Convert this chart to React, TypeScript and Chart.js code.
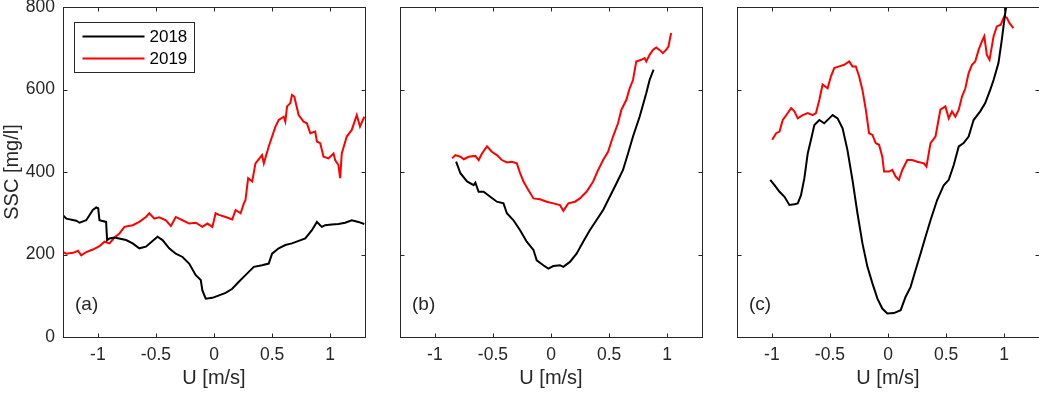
import React, { useEffect, useRef } from "react";
import { Chart, registerables } from "chart.js";

Chart.register(...registerables);

const FONT = "'Liberation Sans', Arial, Helvetica, sans-serif";
const INK = "#262626";

const seriesLabels = ["2018", "2019"];
const seriesColors = ["#000000", "#ff0000"];
const panelLabels = ["(a)", "(b)", "(c)"];
const xTicks = [-1, -0.5, 0, 0.5, 1];
const yTicks = [0, 200, 400, 600, 800];
const xTitle = "U [m/s]";
const yTitle = "SSC [mg/l]";

// Panel (a)
const a2018U = [-1.3, -1.271, -1.186, -1.157, -1.1, -1.043, -1.014, -0.997, -0.986, -0.929, -0.92, -0.9, -0.857, -0.757, -0.7, -0.643, -0.586, -0.529, -0.486, -0.443, -0.386, -0.329, -0.271, -0.214, -0.157, -0.114, -0.1, -0.071, -0.014, 0.043, 0.1, 0.157, 0.214, 0.271, 0.343, 0.414, 0.471, 0.5, 0.557, 0.614, 0.671, 0.729, 0.786, 0.843, 0.886, 0.914, 0.929, 0.957, 1.014, 1.071, 1.129, 1.186, 1.243, 1.294];
const a2018SSC = [295, 287, 282, 277, 283, 308, 314, 312, 283, 279, 235, 239, 241, 235, 227, 215, 219, 233, 243, 235, 215, 202, 194, 178, 150, 138, 113, 93, 95, 101, 107, 117, 134, 150, 170, 174, 178, 202, 215, 223, 227, 233, 239, 259, 279, 271, 267, 271, 273, 274, 277, 283, 279, 274];
const a2019U = [-1.3, -1.271, -1.214, -1.171, -1.143, -1.1, -1.043, -0.986, -0.943, -0.9, -0.857, -0.814, -0.771, -0.7, -0.643, -0.586, -0.557, -0.514, -0.471, -0.414, -0.371, -0.329, -0.271, -0.214, -0.157, -0.1, -0.057, -0.014, 0.014, 0.043, 0.1, 0.157, 0.186, 0.229, 0.257, 0.271, 0.294, 0.329, 0.357, 0.414, 0.429, 0.471, 0.529, 0.557, 0.6, 0.614, 0.629, 0.657, 0.671, 0.691, 0.729, 0.771, 0.8, 0.829, 0.871, 0.886, 0.914, 0.943, 0.986, 1.029, 1.043, 1.071, 1.086, 1.1, 1.143, 1.186, 1.229, 1.257, 1.294];
const a2019SSC = [206, 202, 204, 209, 198, 206, 212, 220, 231, 227, 241, 251, 267, 271, 279, 291, 300, 287, 290, 283, 269, 291, 283, 275, 277, 267, 275, 267, 300, 296, 291, 285, 308, 300, 324, 332, 385, 377, 421, 441, 421, 462, 510, 526, 534, 522, 559, 567, 587, 583, 538, 522, 518, 494, 498, 474, 470, 437, 433, 445, 429, 417, 385, 445, 486, 502, 538, 510, 534];

// Panel (b)
const b2018U = [-0.817, -0.78, -0.723, -0.666, -0.651, -0.623, -0.58, -0.523, -0.466, -0.409, -0.38, -0.323, -0.266, -0.209, -0.151, -0.123, -0.066, -0.023, 0.02, 0.077, 0.106, 0.163, 0.22, 0.277, 0.334, 0.391, 0.449, 0.506, 0.563, 0.62, 0.663, 0.706, 0.763, 0.82, 0.849, 0.883];
const b2018SSC = [425, 397, 377, 368, 374, 352, 352, 340, 328, 324, 300, 283, 259, 231, 211, 186, 174, 166, 172, 174, 170, 182, 202, 231, 259, 283, 308, 340, 372, 405, 445, 486, 534, 591, 623, 648];
const b2019U = [-0.851, -0.823, -0.78, -0.751, -0.709, -0.651, -0.623, -0.594, -0.551, -0.509, -0.466, -0.423, -0.38, -0.337, -0.294, -0.266, -0.237, -0.194, -0.151, -0.094, -0.037, 0.02, 0.077, 0.106, 0.149, 0.206, 0.249, 0.306, 0.363, 0.406, 0.449, 0.491, 0.534, 0.577, 0.606, 0.649, 0.677, 0.706, 0.734, 0.777, 0.806, 0.82, 0.849, 0.877, 0.906, 0.934, 0.963, 0.991, 1.011, 1.034];
const b2019SSC = [433, 441, 437, 431, 437, 439, 429, 445, 462, 449, 441, 429, 423, 425, 421, 397, 377, 356, 336, 334, 328, 324, 320, 306, 324, 328, 336, 352, 377, 405, 429, 449, 486, 518, 551, 575, 603, 623, 668, 672, 676, 668, 684, 696, 702, 696, 688, 696, 704, 737];

// Panel (c)
const c2018U = [-1.014, -0.977, -0.934, -0.891, -0.849, -0.806, -0.777, -0.749, -0.72, -0.691, -0.663, -0.634, -0.591, -0.549, -0.506, -0.477, -0.434, -0.391, -0.349, -0.306, -0.263, -0.22, -0.177, -0.134, -0.091, -0.049, -0.006, 0.051, 0.109, 0.151, 0.194, 0.237, 0.28, 0.323, 0.366, 0.423, 0.48, 0.523, 0.566, 0.609, 0.651, 0.694, 0.737, 0.794, 0.837, 0.88, 0.909, 0.951, 0.98, 1.009, 1.023];
const c2018SSC = [381, 368, 352, 340, 320, 322, 324, 344, 385, 445, 478, 514, 526, 518, 530, 538, 530, 506, 453, 381, 300, 227, 170, 130, 93, 69, 57, 58, 65, 97, 121, 162, 202, 243, 283, 332, 368, 381, 417, 462, 470, 486, 526, 547, 567, 599, 623, 664, 721, 785, 810];
const c2019U = [-0.997, -0.963, -0.934, -0.906, -0.863, -0.834, -0.806, -0.777, -0.734, -0.691, -0.649, -0.62, -0.591, -0.563, -0.52, -0.491, -0.463, -0.42, -0.377, -0.334, -0.306, -0.277, -0.249, -0.22, -0.191, -0.163, -0.134, -0.106, -0.077, -0.049, -0.034, 0.009, 0.037, 0.066, 0.094, 0.123, 0.166, 0.209, 0.251, 0.309, 0.331, 0.366, 0.409, 0.451, 0.494, 0.523, 0.551, 0.58, 0.609, 0.637, 0.666, 0.694, 0.723, 0.751, 0.78, 0.809, 0.829, 0.851, 0.874, 0.909, 0.937, 0.971, 1.0, 1.023, 1.046, 1.08];
const c2019SSC = [478, 494, 498, 526, 543, 555, 547, 530, 538, 543, 538, 543, 575, 612, 603, 632, 652, 656, 660, 668, 656, 656, 632, 599, 551, 494, 490, 470, 466, 437, 401, 401, 405, 389, 381, 405, 429, 429, 425, 421, 413, 470, 486, 551, 559, 530, 547, 534, 551, 583, 603, 640, 660, 668, 696, 717, 729, 684, 672, 729, 753, 757, 777, 774, 761, 749];

const panelSeries = [
  [[a2018U, a2018SSC], [a2019U, a2019SSC]],
  [[b2018U, b2018SSC], [b2019U, b2019SSC]],
  [[c2018U, c2018SSC], [c2019U, c2019SSC]],
];

// layout (pixels)
const AREA_LEFTS = [63, 400, 737];
const AREA_W = 302;
const AREA_TOP = 7;
const AREA_BOTTOM = 337;
const H = 394;

const framePlugin = {
  id: "frame",
  afterDatasetsDraw(chart: any, _args: any, opts: any) {
    const { ctx, chartArea, scales } = chart;
    const x = scales.x;
    const y = scales.y;
    const L = Math.round(chartArea.left) + 0.5;
    const R = Math.round(chartArea.right) + 0.5;
    const T = Math.round(chartArea.top) + 0.5;
    const B = Math.round(chartArea.bottom) + 0.5;
    ctx.save();
    ctx.strokeStyle = INK;
    ctx.lineWidth = 1;
    ctx.strokeRect(L, T, R - L, B - T);
    const tl = 4;
    ctx.beginPath();
    xTicks.forEach((v) => {
      const px = Math.round(x.getPixelForValue(v)) + 0.5;
      ctx.moveTo(px, B);
      ctx.lineTo(px, B - tl);
      ctx.moveTo(px, T);
      ctx.lineTo(px, T + tl);
    });
    yTicks.forEach((v) => {
      const py = Math.round(y.getPixelForValue(v)) + 0.5;
      ctx.moveTo(L, py);
      ctx.lineTo(L + tl, py);
      ctx.moveTo(R, py);
      ctx.lineTo(R - tl, py);
    });
    ctx.stroke();

    // panel label
    ctx.fillStyle = INK;
    ctx.font = `19px ${FONT}`;
    ctx.textAlign = "left";
    ctx.textBaseline = "middle";
    ctx.fillText(opts.label, chartArea.left + 12, chartArea.bottom - 32);

    if (opts.legend) {
      const bx = Math.round(chartArea.left) + 11.5;
      const by = Math.round(chartArea.top) + 15.5;
      const bw = 120;
      const bh = 50;
      ctx.fillStyle = "#ffffff";
      ctx.fillRect(bx, by, bw, bh);
      ctx.strokeStyle = INK;
      ctx.strokeRect(bx, by, bw, bh);
      chart.data.datasets.forEach((ds: any, i: number) => {
        const ly = by + 14 + i * 22;
        ctx.strokeStyle = ds.borderColor;
        ctx.lineWidth = 2;
        ctx.beginPath();
        ctx.moveTo(bx + 8, ly);
        ctx.lineTo(bx + 70, ly);
        ctx.stroke();
        ctx.fillStyle = "#000000";
        ctx.font = `17px ${FONT}`;
        ctx.textAlign = "left";
        ctx.textBaseline = "middle";
        ctx.fillText(ds.label, bx + 75, ly + 1);
      });
    }
    ctx.restore();
  },
};

function makeChart(canvas: HTMLCanvasElement, idx: number, yAxisW: number, padRight: number) {
  const showY = idx === 0;
  const datasets = panelSeries[idx].map(([us, ss], i) => ({
    label: seriesLabels[i],
    data: us.map((u, k) => ({ x: u, y: ss[k] })),
    borderColor: seriesColors[i],
    backgroundColor: seriesColors[i],
    borderWidth: 2,
    pointRadius: 0,
    tension: 0,
    fill: false,
  }));
  return new Chart(canvas, {
    type: "line",
    data: { datasets },
    plugins: [framePlugin],
    options: {
      responsive: false,
      animation: false,
      events: [],
      layout: { padding: { top: AREA_TOP, right: padRight, bottom: 0, left: 0 } },
      plugins: {
        legend: { display: false },
        tooltip: { enabled: false },
        frame: { label: panelLabels[idx], legend: idx === 0 },
      } as any,
      scales: {
        x: {
          type: "linear",
          min: -1.3,
          max: 1.3,
          afterBuildTicks: (s: any) => {
            s.ticks = xTicks.map((v) => ({ value: v }));
          },
          afterFit: (s: any) => {
            s.height = H - AREA_BOTTOM;
            s.paddingLeft = 0;
            s.paddingRight = 0;
          },
          grid: { display: false, drawTicks: false },
          border: { display: false },
          ticks: {
            padding: 8,
            color: INK,
            font: { family: FONT, size: 17.5 },
            maxRotation: 0,
            autoSkip: false,
            callback: (v: any) => String(v),
          },
          title: {
            display: true,
            text: xTitle,
            color: INK,
            font: { family: FONT, size: 20 },
            padding: { top: 0, bottom: 4 },
          },
        },
        y: {
          type: "linear",
          min: 0,
          max: 800,
          afterBuildTicks: (s: any) => {
            s.ticks = yTicks.map((v) => ({ value: v }));
          },
          afterFit: (s: any) => {
            s.width = yAxisW;
            s.paddingTop = 0;
            s.paddingBottom = 0;
          },
          grid: { display: false, drawTicks: false },
          border: { display: false },
          ticks: {
            display: showY,
            padding: 8,
            color: INK,
            font: { family: FONT, size: 17.5 },
            callback: (v: any) => String(v),
          },
          title: {
            display: showY,
            text: yTitle,
            color: INK,
            font: { family: FONT, size: 20 },
            padding: { top: 0, bottom: 0 },
          },
        },
      },
    } as any,
  });
}

export default function App() {
  const r0 = useRef<HTMLCanvasElement>(null);
  const r1 = useRef<HTMLCanvasElement>(null);
  const r2 = useRef<HTMLCanvasElement>(null);
  const refs = [r0, r1, r2];
  const yws = [63, 30, 30];
  const prs = [5, 4, 1];

  useEffect(() => {
    const charts = refs.map((r, i) => makeChart(r.current as HTMLCanvasElement, i, yws[i], prs[i]));
    return () => charts.forEach((c) => c.destroy());
  }, []);

  return (
    <div style={{ position: "absolute", left: 0, top: 0, width: 1039, height: H, background: "#ffffff" }}>
      {refs.map((r, i) => {
        const left = AREA_LEFTS[i] - yws[i];
        const width = yws[i] + AREA_W + prs[i];
        return (
          <canvas
            key={i}
            ref={r}
            width={width}
            height={H}
            style={{ position: "absolute", left, top: 0, width, height: H, display: "block" }}
          />
        );
      })}
    </div>
  );
}
